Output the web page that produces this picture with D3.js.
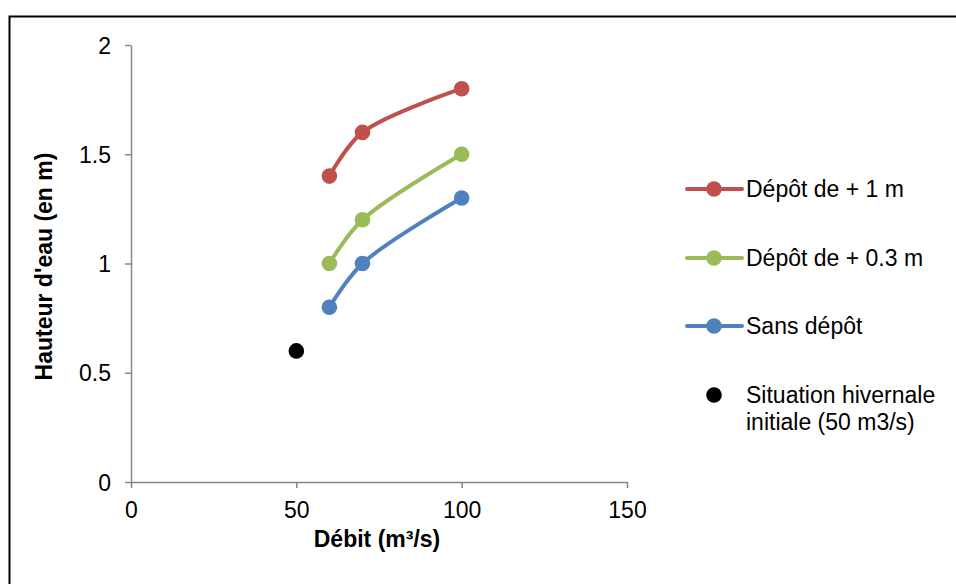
<!DOCTYPE html>
<html>
<head>
<meta charset="utf-8">
<script src="https://cdn.jsdelivr.net/npm/d3@7"></script>
<style>
  body { margin: 0; background: #fff; }
  svg { display: block; font-family: "Liberation Sans", Arial, sans-serif; }
</style>
</head>
<body>
<svg id="chart" width="956" height="584"></svg>
<script>
const xTicks = [0, 50, 100, 150];
const yTicks = [0, 0.5, 1, 1.5, 2];
const xLabels = ["0", "50", "100", "150"];
const yLabels = ["0", "0.5", "1", "1.5", "2"];

const debit = [60, 70, 100];
const depot1m = [1.4, 1.6, 1.8];
const depot03m = [1.0, 1.2, 1.5];
const sansDepot = [0.8, 1.0, 1.3];
const hivernaleX = [50];
const hivernaleY = [0.6];

const seriesNames = ["Dépôt de + 1 m", "Dépôt de + 0.3 m", "Sans dépôt"];
const seriesColors = ["#C0504D", "#9BBB59", "#4F81BD"];
const seriesValues = [depot1m, depot03m, sansDepot];
const pointName = ["Situation hivernale", "initiale (50 m3/s)"];

const svg = d3.select("#chart");
const FS = 23;

// outer chart border
svg.append("rect")
  .attr("x", 9.5).attr("y", 16.5)
  .attr("width", 1000).attr("height", 600)
  .attr("fill", "none").attr("stroke", "#000").attr("stroke-width", 2);

const x = d3.scaleLinear().domain([0, 150]).range([131, 627]);
const y = d3.scaleLinear().domain([0, 2]).range([482, 45]);

const axisColor = "#868686";

const xAxis = svg.append("g")
  .attr("transform", `translate(0,${y(0)})`)
  .call(d3.axisBottom(x).tickValues(xTicks).tickFormat((d, i) => xLabels[i]).tickSize(6).tickSizeOuter(0).tickPadding(14));
const yAxis = svg.append("g")
  .attr("transform", `translate(${x(0)},0)`)
  .call(d3.axisLeft(y).tickValues(yTicks).tickFormat((d, i) => yLabels[i]).tickSize(6).tickSizeOuter(0).tickPadding(14));

[xAxis, yAxis].forEach(g => {
  g.select(".domain").attr("stroke", axisColor).attr("stroke-width", 1.5);
  g.selectAll(".tick line").attr("stroke", axisColor).attr("stroke-width", 1.5);
  g.selectAll(".tick text").attr("fill", "#000").attr("font-size", FS)
    .attr("font-family", "'Liberation Sans', Arial, sans-serif");
});
xAxis.selectAll(".tick text").attr("dy", "0.68em");
yAxis.selectAll(".tick text").attr("dy", "0.35em");

// axis titles
svg.append("text")
  .attr("x", 377).attr("y", 547)
  .attr("text-anchor", "middle")
  .attr("font-size", FS).attr("font-weight", "bold")
  .text("Débit (m³/s)");

svg.append("text")
  .attr("transform", `translate(52,${y(1) + 3}) rotate(-90)`)
  .attr("text-anchor", "middle")
  .attr("font-size", FS).attr("font-weight", "bold")
  .text("Hauteur d'eau (en m)");

// series lines
const line = d3.line()
  .x(d => x(d[0])).y(d => y(d[1]))
  .curve(d3.curveCatmullRom.alpha(0.5));

seriesValues.forEach((vals, si) => {
  const pts = debit.map((d, i) => [d, vals[i]]);
  svg.append("path")
    .datum(pts)
    .attr("d", line)
    .attr("fill", "none")
    .attr("stroke", seriesColors[si])
    .attr("stroke-width", 4)
    .attr("stroke-linecap", "round");
  svg.selectAll(null).data(pts).enter().append("circle")
    .attr("cx", d => x(d[0])).attr("cy", d => y(d[1]))
    .attr("r", 7.8).attr("fill", seriesColors[si]);
});

svg.selectAll(null).data(hivernaleX.map((d, i) => [d, hivernaleY[i]])).enter()
  .append("circle")
  .attr("cx", d => x(d[0])).attr("cy", d => y(d[1]))
  .attr("r", 7.8).attr("fill", "#000");

// legend
const legY = [189, 258, 326];
seriesNames.forEach((name, i) => {
  const g = svg.append("g").attr("transform", `translate(0,${legY[i]})`);
  g.append("line").attr("x1", 687).attr("x2", 742).attr("y1", 0).attr("y2", 0)
    .attr("stroke", seriesColors[i]).attr("stroke-width", 4).attr("stroke-linecap", "round");
  g.append("circle").attr("cx", 714).attr("cy", 0).attr("r", 7.8).attr("fill", seriesColors[i]);
  g.append("text").attr("x", 746).attr("y", 0).attr("dy", "0.35em")
    .attr("font-size", FS).text(name);
});
const gp = svg.append("g").attr("transform", "translate(0,395)");
gp.append("circle").attr("cx", 714).attr("cy", 0).attr("r", 7.8).attr("fill", "#000");
pointName.forEach((t, i) => {
  gp.append("text").attr("x", 746).attr("y", i * 27).attr("dy", "0.35em")
    .attr("font-size", FS).text(t);
});
</script>
</body>
</html>
